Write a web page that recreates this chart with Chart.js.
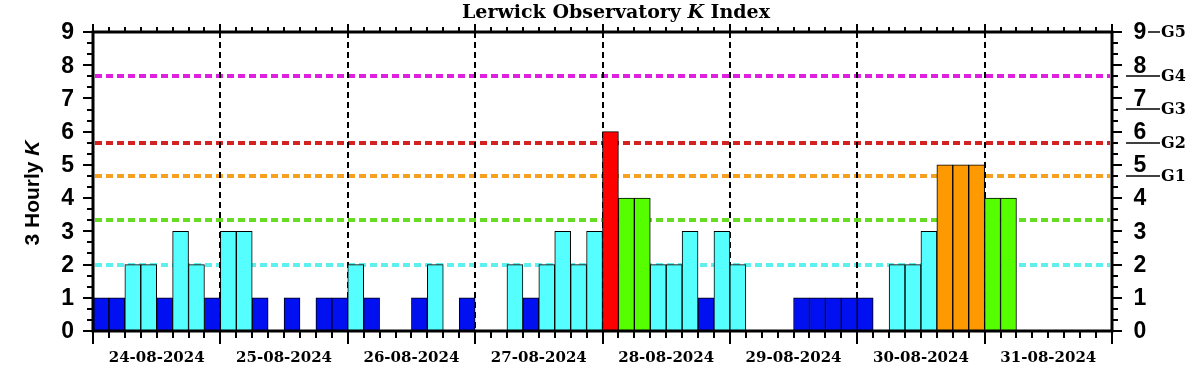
<!DOCTYPE html>
<html>
<head>
<meta charset="utf-8">
<script src="https://cdn.jsdelivr.net/npm/chart.js@4.4.1/dist/chart.umd.min.js"></script>
<style>
    html, body { margin: 0; padding: 0; background: #fff; }
    #kChart { display: block; }
</style>
</head>
<body>
<canvas id="kChart" width="1202" height="375"></canvas>
<script>
// Days shown on the x axis (8 three-hourly slots each)
const days = ["24-08-2024", "25-08-2024", "26-08-2024", "27-08-2024",
              "28-08-2024", "29-08-2024", "30-08-2024", "31-08-2024"];
const slots = ["00", "03", "06", "09", "12", "15", "18", "21"];

// 3 hourly K values, one per slot (null = not yet available)
const kIndex = [
    1, 1, 2, 2, 1, 3, 2, 1,
    3, 3, 1, 0, 1, 0, 1, 1,
    2, 1, 0, 0, 1, 2, 0, 1,
    0, 0, 2, 1, 2, 3, 2, 3,
    6, 4, 4, 2, 2, 3, 1, 3,
    2, 0, 0, 0, 1, 1, 1, 1,
    1, 0, 2, 2, 3, 5, 5, 5,
    4, 4, null, null, null, null, null, null
];

// y axis ticks and storm scale on the right
const yTicks = [0, 1, 2, 3, 4, 5, 6, 7, 8, 9];
const thresholdK = [2, 3.33, 4.67, 5.67, 7.67];
const thresholdColors = ["#5ef0ee", "#66dd22", "#f5a020", "#d42222", "#e020e0"];
const stormLabels = ["G1", "G2", "G3", "G4", "G5"];
const stormK = [4.67, 5.67, 6.67, 7.67, 9];

const categories = [];
days.forEach(d => slots.forEach(s => categories.push(d + " " + s)));

function barColor(k) {
    if (k >= 6) return "#ff0000";
    if (k >= 5) return "#ff9900";
    if (k >= 4) return "#55ff00";
    if (k >= 2) return "#55ffff";
    return "#0010f0";
}

const SANS = "Arial, 'Liberation Sans', sans-serif";
const SERIF = "'DejaVu Serif', serif";

/* ===============================
   Reference lines behind the bars
   =============================== */
const backLines = {
    id: "backLines",
    beforeDatasetsDraw(chart) {
        const { ctx, chartArea: a, scales: { x, y } } = chart;
        ctx.save();
        // coloured dotted threshold lines
        ctx.lineWidth = 4;
        ctx.setLineDash([7, 4]);
        thresholdK.forEach((k, i) => {
            const py = Math.round(y.getPixelForValue(k));
            ctx.strokeStyle = thresholdColors[i];
            ctx.beginPath();
            ctx.moveTo(a.left + 2, py);
            ctx.lineTo(a.right - 2, py);
            ctx.stroke();
        });
        // black dashed day separators
        ctx.lineWidth = 2;
        ctx.setLineDash([6, 4]);
        ctx.strokeStyle = "#000";
        for (let d = 1; d < days.length; d++) {
            const px = Math.round(x.getPixelForValue(d * 8) - x.width / categories.length / 2);
            ctx.beginPath();
            ctx.moveTo(px, a.top);
            ctx.lineTo(px, a.bottom);
            ctx.stroke();
        }
        ctx.restore();
    }
};

/* ===============================
   Frame, ticks and all the text
   =============================== */
const frame = {
    id: "frame",
    afterDatasetsDraw(chart) {
        const { ctx, chartArea: a, scales: { x, y } } = chart;
        const slotW = x.width / categories.length;
        ctx.save();
        ctx.strokeStyle = "#000";
        ctx.fillStyle = "#000";
        ctx.setLineDash([]);

        // y ticks (major on integers, minor on thirds), both sides
        ctx.lineWidth = 2;
        for (let v = 0; v <= 27; v++) {
            const py = Math.round(y.getPixelForValue(v / 3));
            const len = v % 3 === 0 ? 10 : 6;
            ctx.beginPath();
            ctx.moveTo(a.left - len, py); ctx.lineTo(a.left, py);
            ctx.moveTo(a.right, py); ctx.lineTo(a.right + len, py);
            ctx.stroke();
        }

        // x ticks (3-hourly minor, daily major), top and bottom
        for (let i = 0; i <= categories.length; i++) {
            const px = Math.round(a.left + i * slotW);
            const major = i % 8 === 0;
            ctx.beginPath();
            ctx.moveTo(px, a.bottom); ctx.lineTo(px, a.bottom + (major ? 13 : 7));
            ctx.moveTo(px, a.top); ctx.lineTo(px, a.top - (major ? 8 : 5));
            ctx.stroke();
        }

        // thick frame
        ctx.lineWidth = 3;
        ctx.strokeRect(a.left, a.top, a.right - a.left, a.bottom - a.top);

        // y tick labels
        ctx.font = "bold 23px " + SANS;
        ctx.textBaseline = "middle";
        yTicks.forEach(t => {
            const py = y.getPixelForValue(t);
            ctx.textAlign = "right";
            ctx.fillText(String(t), a.left - 19, py + 1);
            ctx.textAlign = "center";
            ctx.fillText(String(t), a.right + 28, py + 1);
        });

        // storm G scale on the right
        ctx.font = "bold 16px " + SERIF;
        ctx.textAlign = "left";
        ctx.lineWidth = 1.5;
        stormLabels.forEach((g, i) => {
            const py = Math.round(y.getPixelForValue(stormK[i]));
            const x0 = i === stormLabels.length - 1 ? a.right + 36 : a.right + 14;
            ctx.beginPath();
            ctx.moveTo(x0, py); ctx.lineTo(a.right + 48, py);
            ctx.stroke();
            ctx.fillText(g, a.right + 49, py + 1);
        });

        // day labels
        ctx.font = "bold 15px " + SERIF;
        ctx.textAlign = "center";
        ctx.textBaseline = "alphabetic";
        days.forEach((d, i) => {
            ctx.fillText(d, a.left + (i + 0.5) * 8 * slotW, a.bottom + 31);
        });

        // title with italic K
        const t1 = "Lerwick Observatory ", tk = "K", t2 = " Index";
        const bold = "bold 19px " + SERIF, ital = "italic bold 19px " + SERIF;
        ctx.font = bold; const w1 = ctx.measureText(t1).width, w2 = ctx.measureText(t2).width;
        ctx.font = ital; const wk = ctx.measureText(tk).width;
        let tx = 616 - (w1 + wk + w2) / 2;
        const ty = 18;
        ctx.textAlign = "left";
        ctx.font = bold; ctx.fillText(t1, tx, ty); tx += w1;
        ctx.font = ital; ctx.fillText(tk, tx, ty); tx += wk;
        ctx.font = bold; ctx.fillText(t2, tx, ty);

        // rotated y axis title
        ctx.translate(33, 193);
        ctx.rotate(-Math.PI / 2);
        const y1 = "3 Hourly ", yk = "K";
        const ybold = "bold 21px " + SANS, yital = "italic bold 21px " + SANS;
        ctx.font = ybold; const wy1 = ctx.measureText(y1).width;
        ctx.font = yital; const wyk = ctx.measureText(yk).width;
        ctx.textBaseline = "middle";
        ctx.font = ybold; ctx.fillText(y1, -(wy1 + wyk) / 2, 0);
        ctx.font = yital; ctx.fillText(yk, -(wy1 + wyk) / 2 + wy1, 0);
        ctx.restore();
    }
};

new Chart(document.getElementById("kChart"), {
    type: "bar",
    data: {
        labels: categories,
        datasets: [{
            data: kIndex,
            backgroundColor: kIndex.map(barColor),
            borderColor: "#000",
            borderWidth: 1,
            barPercentage: 1,
            categoryPercentage: 1
        }]
    },
    options: {
        responsive: false,
        animation: false,
        layout: { padding: { left: 93, right: 90, top: 32, bottom: 44 } },
        plugins: {
            legend: { display: false },
            tooltip: { enabled: false }
        },
        scales: {
            x: { display: false },
            y: { display: false, min: 0, max: 9 }
        }
    },
    plugins: [backLines, frame]
});
</script>
</body>
</html>
